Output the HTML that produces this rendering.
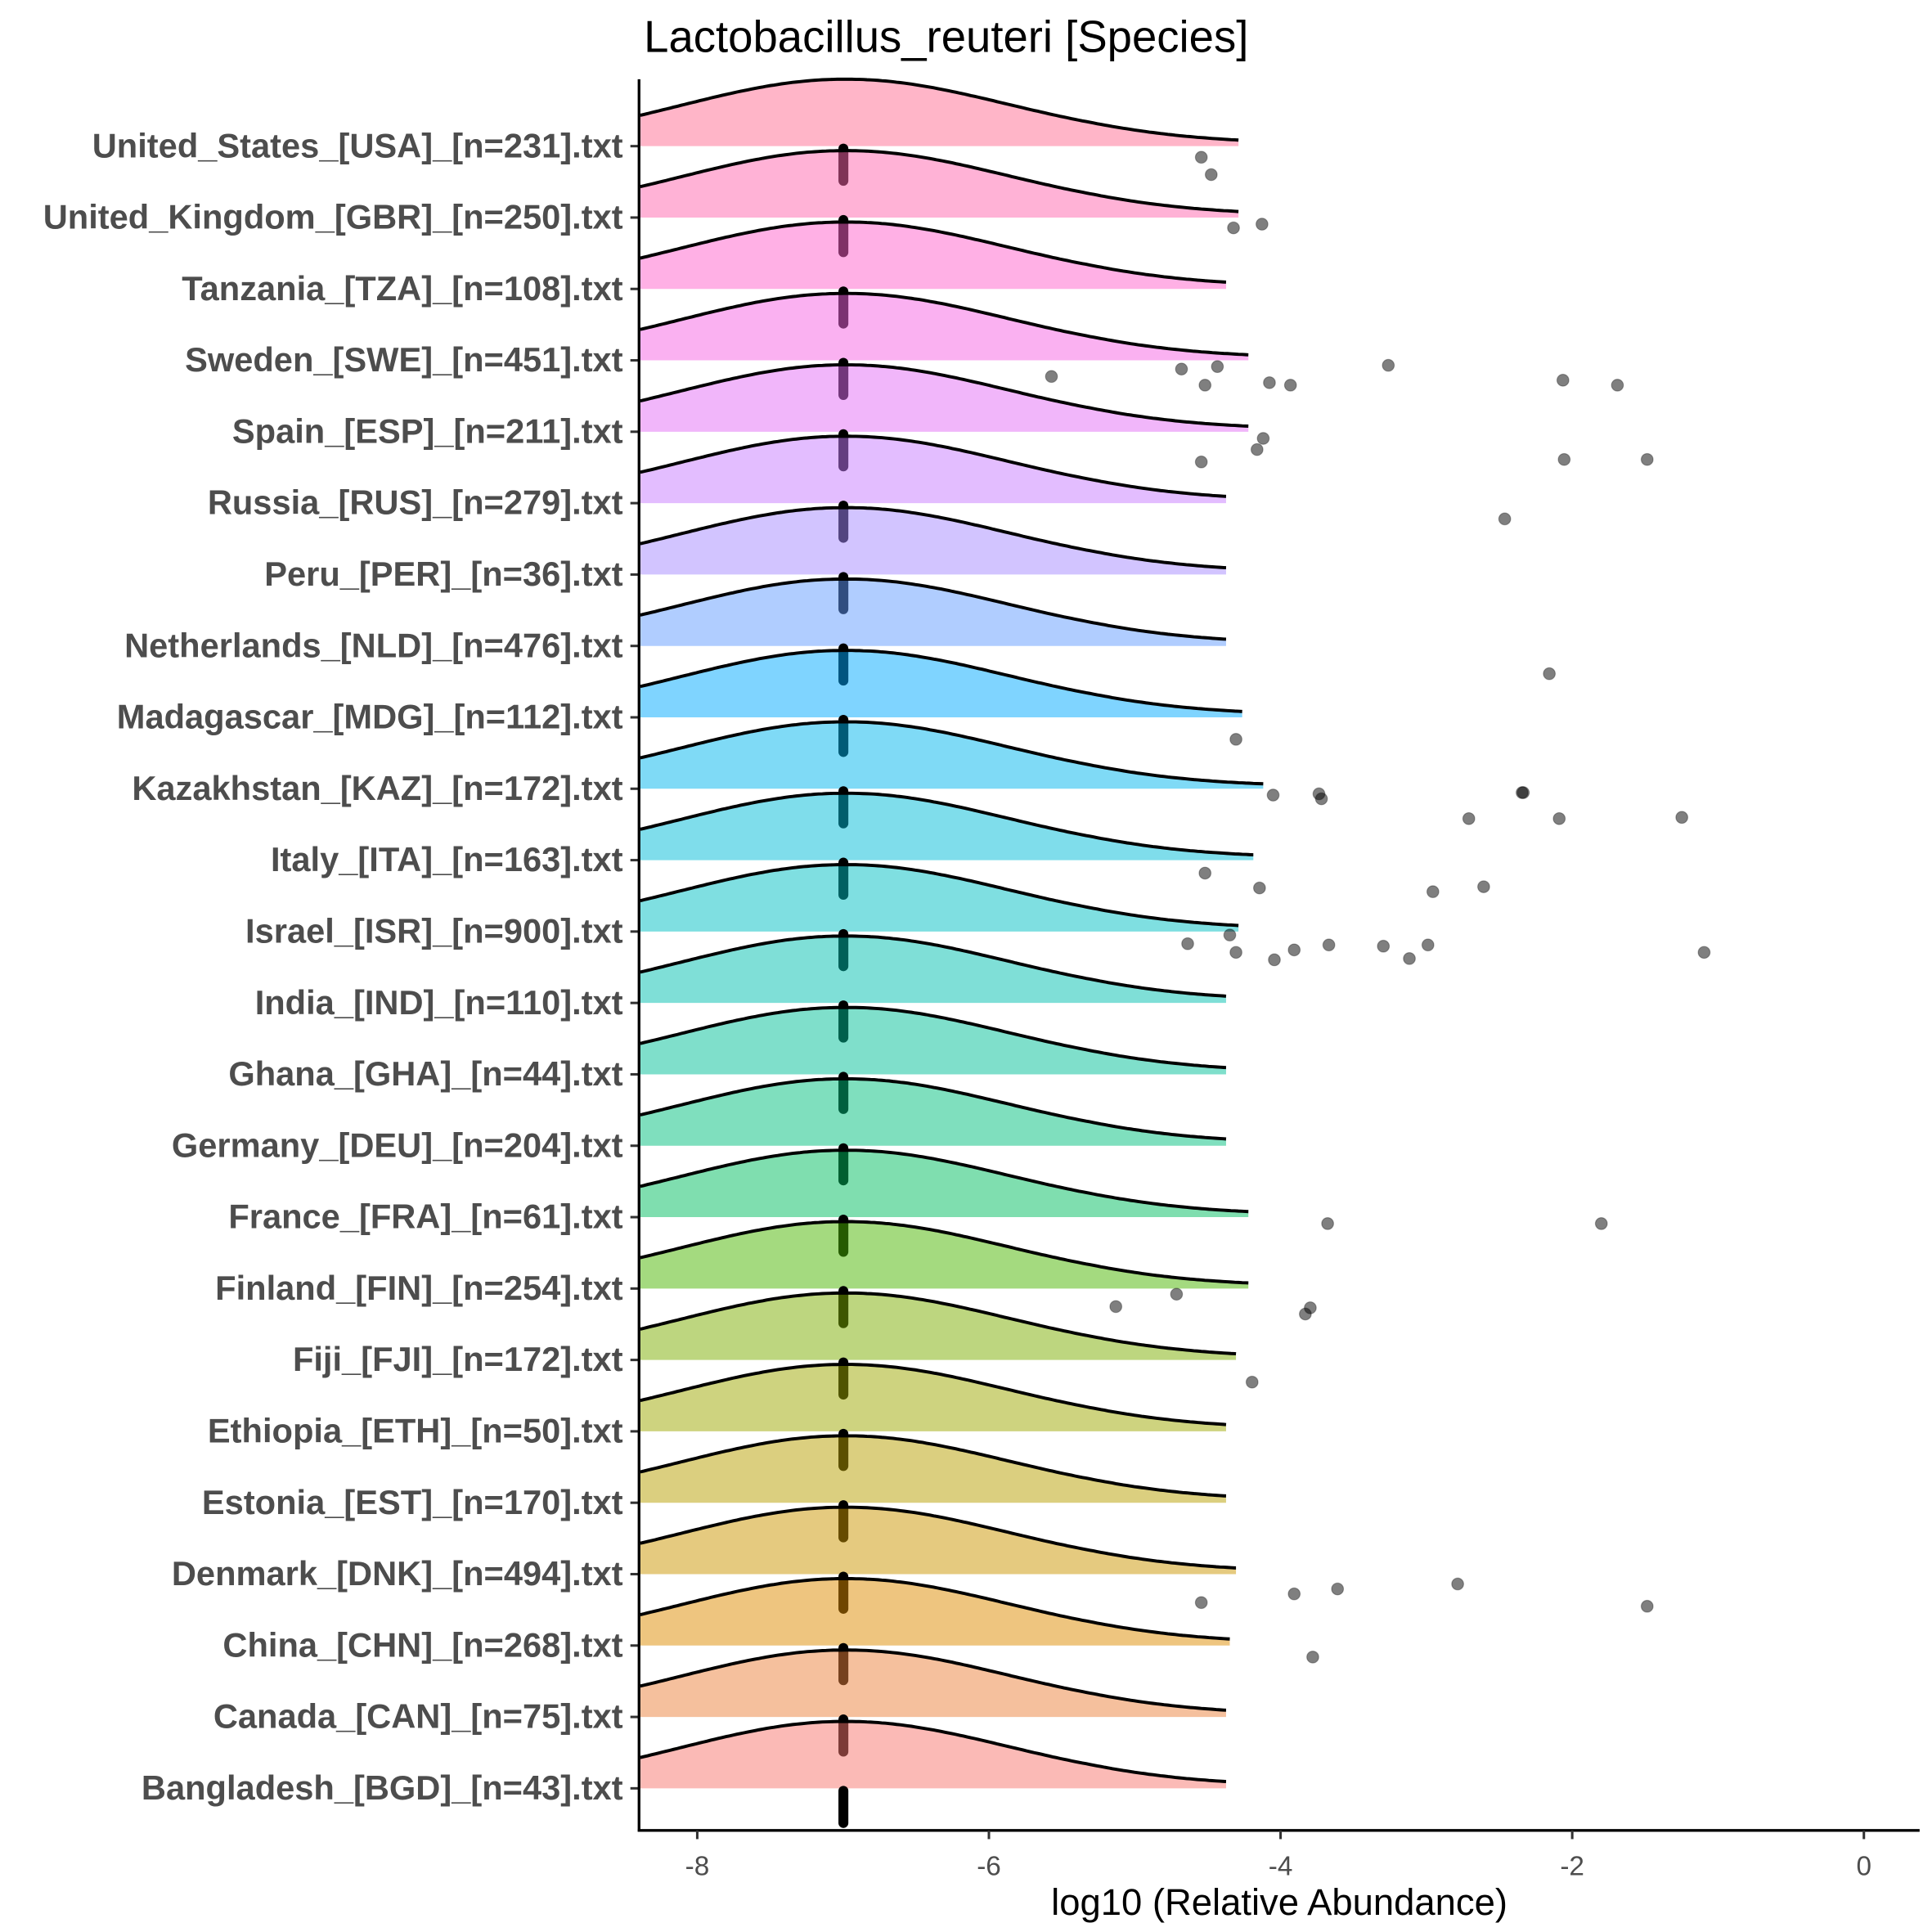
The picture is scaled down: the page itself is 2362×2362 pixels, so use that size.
<!DOCTYPE html>
<html><head><meta charset="utf-8"><style>
html,body{margin:0;padding:0;background:#fff;}
svg{display:block;}
</style></head><body>
<svg id="s" width="2362" height="2362" viewBox="0 0 1560 1560" xmlns="http://www.w3.org/2000/svg" font-family="Liberation Sans, Arial, sans-serif">
<rect width="1560" height="1560" fill="#fff"/>
<g id="g"></g>
<text x="764" y="42" font-size="36" text-anchor="middle" fill="#000">Lactobacillus_reuteri [Species]</text>
<text x="1033" y="1546" font-size="30" text-anchor="middle" fill="#000">log10 (Relative Abundance)</text>
</svg>
<script>
var NS="http://www.w3.org/2000/svg",g=document.getElementById("g");
function el(t,a,txt){var e=document.createElementNS(NS,t);for(var k in a)e.setAttribute(k,a[k]);if(txt!==undefined)e.textContent=txt;g.appendChild(e);return e;}
function X(v){return 1505+117.75*v;}
var rows=[
["United_States_[USA]_[n=231].txt",1000,"#FF6C91",[[970,127],[978,141]]],
["United_Kingdom_[GBR]_[n=250].txt",1000,"#FF65AE",[[996,184],[1019,181]]],
["Tanzania_[TZA]_[n=108].txt",990,"#FF61CC",[]],
["Sweden_[SWE]_[n=451].txt",1008,"#F564E3",[[849,304],[954,298],[983,296],[973,311],[1025,309],[1042,311],[1121,295],[1262,307],[1306,311]]],
["Spain_[ESP]_[n=211].txt",1008,"#E36EF6",[[1020,354],[1015,363],[970,373],[1263,371],[1330,371]]],
["Russia_[RUS]_[n=279].txt",990,"#C77CFF",[[1215,419]]],
["Peru_[PER]_[n=36].txt",990,"#A58AFF",[]],
["Netherlands_[NLD]_[n=476].txt",990,"#619CFF",[[1251,544]]],
["Madagascar_[MDG]_[n=112].txt",1003,"#00A9FF",[[998,597]]],
["Kazakhstan_[KAZ]_[n=172].txt",1020,"#00B5EE",[[1028,642],[1065,641],[1067,645],[1229,640],[1230,640],[1186,661],[1259,661],[1358,660]]],
["Italy_[ITA]_[n=163].txt",1012,"#00BCD8",[[973,705],[1017,717],[1157,720],[1198,716]]],
["Israel_[ISR]_[n=900].txt",1000,"#00BFC4",[[993,755],[959,762],[998,769],[1029,775],[1045,767],[1073,763],[1117,764],[1138,774],[1153,763],[1376,769]]],
["India_[IND]_[n=110].txt",990,"#00C0AF",[]],
["Ghana_[GHA]_[n=44].txt",990,"#00C098",[]],
["Germany_[DEU]_[n=204].txt",990,"#00BF7D",[]],
["France_[FRA]_[n=61].txt",1008,"#00BD5F",[[1072,988],[1293,988]]],
["Finland_[FIN]_[n=254].txt",1008,"#49B500",[[901,1055],[950,1045],[1058,1056],[1054,1061]]],
["Fiji_[FJI]_[n=172].txt",998,"#7CAE00",[[1011,1116]]],
["Ethiopia_[ETH]_[n=50].txt",990,"#9DA700",[]],
["Estonia_[EST]_[n=170].txt",990,"#B79F00",[]],
["Denmark_[DNK]_[n=494].txt",998,"#CB9600",[[970,1294],[1045,1287],[1080,1283],[1177,1279],[1330,1297]]],
["China_[CHN]_[n=268].txt",993,"#DE8C00",[[1060,1338]]],
["Canada_[CAN]_[n=75].txt",990,"#EC823C",[]],
["Bangladesh_[BGD]_[n=43].txt",990,"#F8766D",[]]
];
var step=(1445-119)/23, H=54, s=1.12, mx=681, x0=517;
rows.forEach(function(r,i){
  var b=118+i*step, pts=[];
  for(var x=x0;x<=r[1];x+=3){var v=(x-mx)/117.75;pts.push([x,b-H*Math.exp(-v*v/(2*s*s))-2*Math.max(0,Math.min(1,(x-mx)/200))]);}
  var v2=(r[1]-mx)/117.75;pts.push([r[1],b-H*Math.exp(-v2*v2/(2*s*s))-2]);
  var d="M"+pts.map(function(p){return p[0].toFixed(1)+","+p[1].toFixed(1);}).join(" L");
  el("path",{d:d+" L"+r[1]+","+b+" L"+x0+","+b+" Z",fill:r[2],"fill-opacity":"0.5",stroke:"none"});
  el("path",{d:d,fill:"none",stroke:"#000","stroke-width":"2.6"});
  el("line",{x1:mx,y1:b+2,x2:mx,y2:b+28,stroke:"#000","stroke-width":"8","stroke-linecap":"round"});
  r[3].forEach(function(p){el("circle",{cx:p[0],cy:p[1],r:4.8,fill:"#000","fill-opacity":"0.5",stroke:"#000","stroke-opacity":"0.3","stroke-width":"0.8"});});
  el("line",{x1:509,y1:b,x2:516,y2:b,stroke:"#333","stroke-width":"2"});
  el("text",{x:503,y:b+9,"font-size":"27.5","font-weight":"bold","text-anchor":"end",fill:"#4D4D4D"},r[0]);
});
el("line",{x1:516,y1:64,x2:516,y2:1479,stroke:"#000","stroke-width":"2.2"});
el("line",{x1:515,y1:1478,x2:1550,y2:1478,stroke:"#000","stroke-width":"2.2"});
[-8,-6,-4,-2,0].forEach(function(v){var x=X(v);
 el("line",{x1:x,y1:1478,x2:x,y2:1485,stroke:"#333","stroke-width":"2"});
 el("text",{x:x,y:1514,"font-size":"22","text-anchor":"middle",fill:"#4D4D4D"},v==0?"0":"-"+(-v));});
</script>
</body></html>
